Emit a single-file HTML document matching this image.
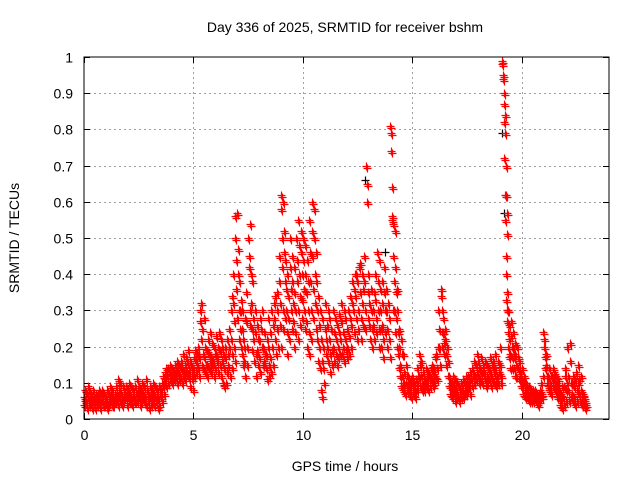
<!DOCTYPE html>
<html><head><meta charset="utf-8">
<style>
html,body{margin:0;padding:0;background:#fff;}
svg{display:block;font-family:"Liberation Sans",Arial,sans-serif;}
</style></head>
<body>
<svg id="chart" width="640" height="480" viewBox="0 0 640 480" xmlns="http://www.w3.org/2000/svg">
<rect width="640" height="480" fill="#fff"/>
<text x="345" y="32" font-size="14" text-anchor="middle" fill="#000">Day 336 of 2025, SRMTID for receiver bshm</text>
<text x="345" y="471" font-size="14" text-anchor="middle" fill="#000">GPS time / hours</text>
<text transform="translate(19,238) rotate(-90)" font-size="14" text-anchor="middle" fill="#000">SRMTID / TECUs</text>
<g id="grid"></g>
<g id="ticks"></g>
<g id="pts"></g>
<rect x="84" y="57" width="525" height="362" fill="none" stroke="#000" stroke-width="1"/>
</svg>
<script>
const xTicks=[0,5,10,15,20];
const xTickLabels=["0","5","10","15","20"];
const yTicks=[0,0.1,0.2,0.3,0.4,0.5,0.6,0.7,0.8,0.9,1];
const yTickLabels=["0","0.1","0.2","0.3","0.4","0.5","0.6","0.7","0.8","0.9","1"];
const hours=[0,0.1,0.2,0.3,0.4,0.5,0.6,0.7,0.8,0.9,1,1.1,1.2,1.3,1.4,1.5,1.6,1.7,1.8,1.9,2,2.1,2.2,2.3,2.4,2.5,2.6,2.7,2.8,2.9,3,3.1,3.2,3.3,3.4,3.5,3.6,3.7,3.8,3.9,4,4.1,4.2,4.3,4.4,4.5,4.6,4.7,4.8,4.9,5,5.1,5.2,5.3,5.4,5.5,5.6,5.7,5.8,5.9,6,6.1,6.2,6.3,6.4,6.5,6.6,6.7,6.8,6.9,7,7.1,7.2,7.3,7.4,7.5,7.6,7.7,7.8,7.9,8,8.1,8.2,8.3,8.4,8.5,8.6,8.7,8.8,8.9,9,9.1,9.2,9.3,9.4,9.5,9.6,9.7,9.8,9.9,10,10.1,10.2,10.3,10.4,10.5,10.6,10.7,10.8,10.9,11,11.1,11.2,11.3,11.4,11.5,11.6,11.7,11.8,11.9,12,12.1,12.2,12.3,12.4,12.5,12.6,12.7,12.8,12.9,13,13.1,13.2,13.3,13.4,13.5,13.6,13.7,13.8,13.9,14,14.1,14.2,14.3,14.4,14.5,14.6,14.7,14.8,14.9,15,15.1,15.2,15.3,15.4,15.5,15.6,15.7,15.8,15.9,16,16.1,16.2,16.3,16.4,16.5,16.6,16.7,16.8,16.9,17,17.1,17.2,17.3,17.4,17.5,17.6,17.7,17.8,17.9,18,18.1,18.2,18.3,18.4,18.5,18.6,18.7,18.8,18.9,19,19.1,19.2,19.3,19.4,19.5,19.6,19.7,19.8,19.9,20,20.1,20.2,20.3,20.4,20.5,20.6,20.7,20.8,20.9,21,21.1,21.2,21.3,21.4,21.5,21.6,21.7,21.8,21.9,22,22.1,22.2,22.3,22.4,22.5,22.6,22.7,22.8,22.9];
const srmtid=[
[.04,.06,.08,.05],[.05,.07,.03,.09],[.06,.04,.08,.05],[.07,.05,.03,.06],[.05,.08,.04,.06],[.06,.03,.07,.05],[.04,.07,.05,.08],[.06,.05,.03,.07],[.05,.08,.06,.04],[.07,.04,.06,.05],
[.06,.05,.08,.03],[.04,.07,.05,.09],[.06,.05,.07,.04],[.08,.06,.04,.05],[.05,.07,.09,.06],[.07,.05,.11,.04],[.06,.08,.05,.1],[.07,.04,.06,.09],[.05,.08,.06,.07],[.09,.06,.04,.07],
[.06,.08,.05,.1],[.07,.05,.09,.06],[.04,.06,.08,.05],[.06,.09,.05,.07],[.11,.07,.05,.08],[.09,.06,.04,.07],[.05,.08,.06,.1],[.07,.05,.09,.06],[.06,.11,.04,.08],[.08,.05,.07,.03],
[.06,.09,.04,.07],[.05,.08,.06,.1],[.07,.04,.09,.06],[.05,.08,.06,.03],[.06,.09,.04,.07],[.08,.06,.1,.05],[.09,.12,.07,.1],[.11,.13,.09,.14],[.12,.1,.14,.13],[.13,.11,.15,.12],
[.12,.14,.1,.13],[.13,.11,.15,.12],[.14,.12,.1,.16],[.13,.15,.11,.12],[.12,.14,.16,.1],[.14,.12,.18,.13],[.15,.11,.13,.17],[.13,.16,.12,.19],[.12,.14,.09,.16],[.15,.11,.13,.08],
[.14,.17,.12,.19],[.16,.13,.18,.15],[.2,.14,.17,.12],[.3,.27,.22,.32,.15],[.25,.18,.14,.28],[.17,.13,.2,.15],[.15,.19,.12,.22],[.18,.14,.24,.16],[.13,.17,.21,.15],[.16,.2,.12,.18],
[.14,.18,.23,.16],[.17,.2,.13,.24],[.19,.15,.22,.12],[.16,.2,.18,.1],[.14,.09,.2,.17],[.1,.13,.22,.18],[.15,.25,.2,.12],[.22,.3,.18,.34,.14],[.4,.32,.27,.2,.16],[.56,.5,.44,.36,.28],
[.57,.47,.4,.3,.22],[.38,.3,.25,.2,.33],[.25,.18,.3,.22,.15],[.2,.16,.28,.12],[.27,.35,.2,.15],[.5,.45,.42,.3,.26],[.54,.4,.32,.25,.19],[.38,.28,.22,.16],[.3,.24,.18,.12],[.26,.19,.15,.22],
[.22,.17,.28,.13],[.25,.3,.2,.15],[.2,.16,.24,.18],[.18,.14,.22,.11],[.28,.2,.15,.12],[.24,.17,.13,.3],[.2,.26,.15,.32],[.28,.22,.34,.18],[.35,.3,.25,.2],[.45,.38,.32,.26,.2],
[.62,.58,.5,.42,.3,.25],[.6,.52,.46,.38,.28],[.44,.36,.3,.24,.18],[.4,.34,.28,.22],[.5,.42,.36,.3,.25],[.45,.38,.32,.27,.2],[.42,.35,.3,.24],[.5,.44,.38,.3,.22],[.55,.48,.4,.34,.26],[.52,.46,.4,.33,.28],
[.5,.44,.36,.3,.25],[.48,.4,.35,.27,.2],[.44,.38,.3,.24,.18],[.55,.46,.38,.3,.22],[.6,.52,.45,.36,.28],[.58,.5,.4,.32,.25],[.46,.38,.3,.22,.16],[.34,.26,.2,.14],[.3,.22,.08,.06,.16],[.28,.2,.14,.1],
[.32,.25,.18,.22],[.26,.2,.16,.3],[.22,.28,.18,.13],[.25,.19,.15,.3],[.2,.16,.24,.28],[.18,.22,.15,.26],[.2,.17,.24,.29],[.22,.18,.27,.32],[.18,.24,.2,.3],[.16,.22,.28,.19],
[.2,.25,.17,.3],[.23,.18,.28,.34],[.26,.2,.32,.38],[.3,.24,.36,.4],[.34,.28,.4,.22],[.38,.3,.25,.42],[.43,.35,.28,.22],[.4,.32,.26,.36],[.45,.38,.3,.25],[.7,.65,.6,.35,.28],
[.4,.32,.26,.22],[.36,.3,.25,.2],[.3,.26,.22,.35],[.4,.33,.28,.24],[.46,.38,.3,.25,.2],[.44,.36,.3,.25,.2],[.38,.32,.26,.22,.17],[.42,.35,.3,.24],[.36,.3,.25,.2],[.32,.28,.22,.17],
[.81,.79,.74,.64,.55,.3],[.56,.54,.45,.38,.3,.24],[.52,.42,.35,.28,.2],[.36,.3,.24,.18,.14],[.25,.2,.15,.12,.09],[.22,.18,.12,.08,.1],[.18,.13,.1,.07],[.15,.1,.08,.12],[.12,.09,.07,.1],[.1,.08,.11,.06],
[.12,.09,.07,.1],[.1,.08,.06,.11],[.14,.1,.08,.12],[.18,.12,.09,.15],[.16,.12,.1,.08],[.13,.1,.08,.11],[.11,.14,.09,.12],[.1,.13,.08,.12],[.12,.09,.14,.11],[.15,.11,.09,.13],
[.14,.1,.12,.17],[.18,.14,.11,.2],[.3,.25,.2,.15],[.36,.34,.3,.24,.2],[.28,.24,.21,.18],[.25,.22,.18,.15],[.2,.16,.12,.09],[.12,.09,.07,.1],[.08,.1,.06,.12],[.07,.09,.05,.11],
[.08,.06,.1,.07],[.06,.09,.05,.08],[.07,.1,.06,.08],[.09,.06,.11,.07],[.08,.1,.07,.12],[.1,.08,.12,.09],[.09,.11,.07,.13],[.11,.09,.14,.12],[.13,.1,.16,.12],[.15,.11,.18,.13],
[.12,.16,.1,.14],[.14,.11,.17,.13],[.1,.15,.13,.12],[.13,.16,.11,.09],[.12,.15,.1,.14],[.14,.11,.17,.13],[.12,.09,.15,.11],[.16,.13,.1,.18],[.14,.11,.09,.12],[.12,.16,.1,.13],
[.2,.15,.12,.1],[.99,.98,.95,.94,.9,.87,.84,.79,.7,.62,.57,.51],[.82,.72,.62,.55,.45,.4,.35,.3],[.33,.3,.27,.24,.2,.17],[.3,.26,.22,.18,.14],[.27,.23,.2,.17,.14],[.24,.2,.17,.14,.12],[.21,.18,.15,.12],[.2,.17,.14,.11],[.16,.13,.11,.09],
[.14,.11,.09,.07],[.12,.1,.08,.06],[.1,.08,.06,.09],[.07,.09,.05,.08],[.06,.08,.05,.07],[.07,.05,.08,.06],[.06,.08,.05,.07],[.05,.07,.06,.04],[.07,.05,.08,.06],[.1,.07,.06,.12],
[.24,.22,.2,.17,.14],[.18,.15,.12,.1],[.12,.09,.14,.08],[.1,.08,.07,.12],[.12,.14,.09,.11],[.13,.1,.08,.12],[.1,.08,.06,.11],[.08,.06,.04,.07],[.07,.05,.03,.09],[.06,.09,.04,.12],
[.14,.08,.05,.1],[.2,.12,.08,.05],[.21,.16,.1,.06],[.1,.07,.05,.12],[.09,.06,.04,.11],[.13,.08,.05,.1],[.15,.11,.07,.05],[.12,.08,.06,.04],[.07,.05,.04,.06],[.05,.03,.04]
];
const blackHours=[12.85,19.12,19.18,13.75];
const blackVals=[0.66,0.79,0.57,0.46];

const X0=84,X1=609,Y0=419,Y1=57,XMAX=24;
function xs(h){return X0+(X1-X0)*h/XMAX;}
function ys(v){return Y0-(Y0-Y1)*v;}
const NS="http://www.w3.org/2000/svg";
const grid=document.getElementById('grid');
const ticks=document.getElementById('ticks');
const pts=document.getElementById('pts');
function line(g,x1,y1,x2,y2,stroke,dash){
  const l=document.createElementNS(NS,'line');
  l.setAttribute('x1',x1);l.setAttribute('y1',y1);l.setAttribute('x2',x2);l.setAttribute('y2',y2);
  l.setAttribute('stroke',stroke);l.setAttribute('stroke-width','1');
  if(dash)l.setAttribute('stroke-dasharray',dash);
  g.appendChild(l);return l;
}
function text(g,x,y,s,anchor){
  const t=document.createElementNS(NS,'text');
  t.setAttribute('x',x);t.setAttribute('y',y);t.setAttribute('font-size','14');
  t.setAttribute('text-anchor',anchor);t.textContent=s;g.appendChild(t);return t;
}
yTicks.forEach((v,i)=>{
  const y=Math.round(ys(v))+0.5;
  if(v>0&&v<1){const gl=line(grid,X0,y,X1,y,'#a0a0a0','2,3');
    
    }
  line(ticks,X0,y,X0+6,y,'#000');line(ticks,X1-6,y,X1,y,'#000');
  const t=text(ticks,73,y+5,yTickLabels[i],'end');
  
  
});
xTicks.forEach((h,i)=>{
  const x=Math.round(xs(h))+0.5;
  if(h>0){const gl=line(grid,x,Y1,x,Y0,'#a0a0a0','2,3');
    
    }
  line(ticks,x,Y0,x,Y0-6,'#000');line(ticks,x,Y1,x,Y1+6,'#000');
  const t=text(ticks,x,Y0+21,xTickLabels[i],'middle');
  
  
});
function plus(x,y,c){
  const p=document.createElementNS(NS,'path');
  p.setAttribute('d','M'+(x-4)+' '+y+'H'+(x+4)+'M'+x+' '+(y-4)+'V'+(y+4));
  p.setAttribute('stroke',c);p.setAttribute('stroke-width','1.2');p.setAttribute('fill','none');
  pts.appendChild(p);return p;
}
blackHours.forEach((h,i)=>{
  const p=plus(Math.round(xs(h))+0.5,Math.round(ys(blackVals[i]))+0.5,'#000');
  
  
});
hours.forEach((h,i)=>{
  const vals=srmtid[i]||[];
  vals.forEach((v,j)=>{
    const x=Math.round(xs(h+ j*0.022))+0.5, y=Math.round(ys(v))+0.5;
    const p=plus(x,y,'#ff0000');
    
    
    const p2=plus(x+1,y+2,'#ff0000');
    
    
  });
});
</script>
</body></html>
